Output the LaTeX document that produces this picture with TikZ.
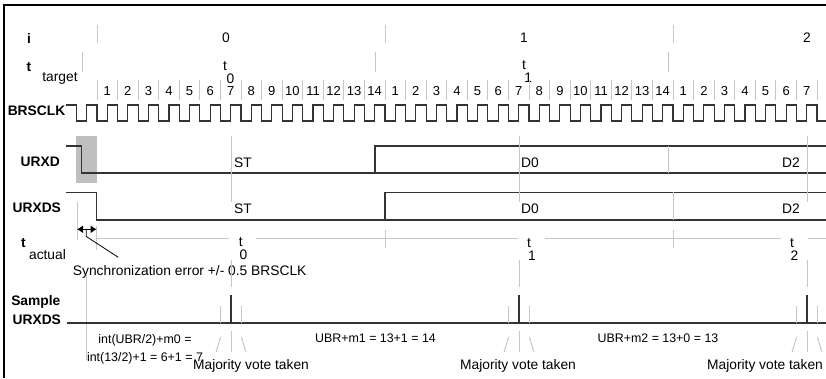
\documentclass[tikz,border=0pt]{standalone}
\usepackage{fontspec}
\setmainfont{Liberation Sans}
\usetikzlibrary{arrows.meta}
\begin{document}
\begin{tikzpicture}[x=1pt,y=-1pt,
  lbl/.style={font=\fontsize{13.8}{15}\selectfont\bfseries, inner sep=0pt},
  txt/.style={font=\fontsize{13.8}{15}\selectfont, inner sep=0pt},
  small/.style={font=\fontsize{12.4}{14}\selectfont, inner sep=0pt},
  num/.style={font=\fontsize{13}{14}\selectfont, inner sep=0pt},
  wave/.style={draw=black!80, line width=1.2pt},
  gridl/.style={draw=black!22, line width=1pt},
  frame/.style={draw=black, line width=1.2pt},
]
\useasboundingbox (0,0) rectangle (826,378);
\def\p{20.5714}
% frame
\draw[frame] (4,378) -- (4,5) -- (826,5);

% row labels
\node[lbl] (li) at (29,38) {i};
\node[lbl] (lt) at (29,67) {t};
\node[txt] (ltt) at (60,78) {target};
\node[lbl] (lclk) at (36.5,111) {BRSCLK};
\node[lbl] (lrxd) at (40.3,161.7) {URXD};
\node[lbl] (lrxds) at (36.8,207.3) {URXDS};
\node[lbl] (lta) at (23.3,243) {t};
\node[txt] (ltaa) at (47.5,255) {actual};
\node[lbl] (lsa) at (35.8,301.7) {Sample};
\node[lbl] (lsb) at (36.8,320) {URXDS};

% i row
\node[txt] (i0) at (226,38) {0};
\node[txt] (i1) at (524,38) {1};
\node[txt] (i2) at (807,38) {2};
\foreach \x in {97,385,673.7} \draw[gridl] (\x,25) -- (\x,43);
% t target row
\foreach \x in {82,375,668.7} \draw[gridl] (\x,52) -- (\x,72);
\node[txt] (tt0) at (225,66.5) {t};
\node[txt] (tt0s) at (230.5,78.5) {0};
\node[txt] (tt1) at (524,65.5) {t};
\node[txt] (tt1s) at (528.3,77.5) {1};

% cycle numbers
\foreach \k in {0,...,35} \draw[gridl] ({97+\k*\p},80) -- ({97+\k*\p},100);
\foreach \k in {1,...,35} {
  \pgfmathtruncatemacro\lab{mod(\k-1,14)+1}
  \node[num] (n\k) at ({97+(\k-0.5)*\p},91) {\lab};
}

% clock
\draw[wave] (66,105) \foreach \n in {-1,...,34} { -- ({97+\n*\p},105) -- ({97+\n*\p},121) -- ({97+(\n+0.5)*\p},121) -- ({97+(\n+0.5)*\p},105) } -- (817,105) -- (817,121) -- (826,121);

% URXD
\fill[black!25] (76,136) rectangle (97,183);
\draw[wave] (66,146) -- (81.7,146) -- (81.7,173) -- (826,173);
\draw[wave] (375,173) -- (375,146) -- (826,146);
\draw[gridl] (668.7,146) -- (668.7,173);
% URXDS
\draw[wave] (66,192.3) -- (96.7,192.3) -- (96.7,220) -- (826,220);
\draw[wave] (385,220) -- (385,192.3) -- (826,192.3);
\draw[gridl] (673.7,192.3) -- (673.7,220);

% sample instant lines through data rows
\foreach \t in {231,519,807} \draw[gridl] (\t,136) -- (\t,201.7);

% data labels
\node[txt, anchor=west] (st1) at (234,162.7) {ST};
\node[txt, anchor=west] (st2) at (234,208.3) {ST};
\node[txt, anchor=west] (d01) at (521,163) {D0};
\node[txt, anchor=west] (d02) at (521,208.3) {D0};
\node[txt, anchor=east] (d21) at (800,163) {D2};
\node[txt, anchor=east] (d22) at (800,208.3) {D2};

% t actual row
\draw[gridl] (77,201.7) -- (77,240);
\draw[gridl] (96.7,226) -- (96.7,250);
\draw[gridl] (97,238.3) -- (229,238.3);
\draw[gridl] (256,238.3) -- (518,238.3);
\draw[gridl] (545,238.3) -- (781,238.3);
\draw[gridl] (808,238.3) -- (826,238.3);
\foreach \x in {385,673.7} \draw[gridl] (\x,230) -- (\x,248);
\draw[{Latex[length=6pt,width=8pt]}-{Latex[length=6pt,width=8pt]}, line width=1.3pt] (77,229.3) -- (96.7,229.3);
\coordinate (sync) at (118.3,257.3);
\draw[line width=0.8pt] (86.3,229.3) -- (86.3,236.5) -- (sync);
\node[txt, anchor=west] (syncl) at (72.7,271.7) {Synchronization error +/- 0.5 BRSCLK};
\node[txt] (ta0) at (240.7,242.5) {t};
\node[txt] (ta0s) at (243.5,255) {0};
\node[txt] (ta1) at (529,243.5) {t};
\node[txt] (ta1s) at (532,256) {1};
\node[txt] (ta2) at (792,243.5) {t};
\node[txt] (ta2s) at (794.5,256) {2};

% sample row
\draw[gridl] (86.7,275) -- (86.7,360);
\draw[wave] (66.7,323) -- (826,323);
\foreach \t in {231,519,807} {
  \draw[gridl] (\t,260) -- (\t,287);
  \draw[wave] (\t,295) -- (\t,323);
  \draw[gridl] (\t-10.3,306) -- (\t-10.3,323);
  \draw[gridl] (\t+10.3,306) -- (\t+10.3,323);
  \draw[gridl] (\t-10.3,337) -- (\t-15,352);
  \draw[gridl] (\t,331) -- (\t,352);
  \draw[gridl] (\t+10.3,337) -- (\t+15,352);
}
\node[small] (c0a) at (145,340) {int(UBR/2)+m0 =};
\node[small] (c0b) at (145,358) {int(13/2)+1 = 6+1 = 7};
\node[small] (c1) at (375.5,338) {UBR+m1 = 13+1 = 14};
\node[small] (c2) at (658,338) {UBR+m2 = 13+0 = 13};
\node[txt] (mv0) at (251,366) {Majority vote taken};
\node[txt] (mv1) at (518,366) {Majority vote taken};
\node[txt] (mv2) at (765,366) {Majority vote taken};
\end{tikzpicture}
\end{document}
